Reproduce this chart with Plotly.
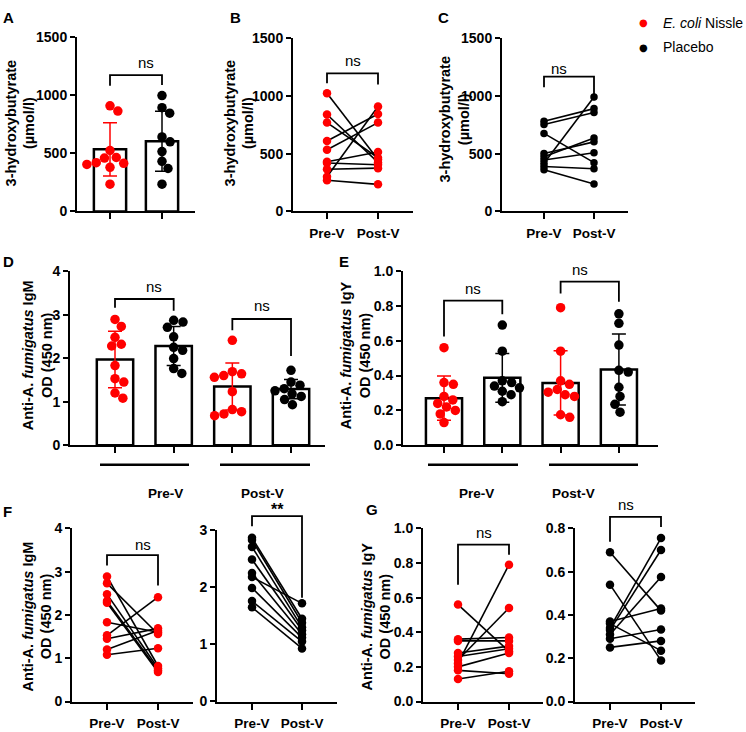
import math
import plotly.graph_objects as go

OFF = 0
FW, FH = 746, 732
RED = "#ff0000"
BLACK = "#000000"
FONT = "Liberation Sans, Arial, sans-serif"

# ---------------- data ----------------
pair_ticks = ["Pre-V", "Post-V"]

# Panel A: 3-hydroxybutyrate (µmol/l), bar = mean, error = SD
hb_ecn = [910, 865, 525, 465, 460, 420, 415, 405, 380, 235]
hb_plc = [998, 894, 847, 642, 600, 516, 432, 370, 235]
hb_mean = [535, 605]
hb_sd = [230, 258]

# Panel B / C: paired 3-hydroxybutyrate
hb_ecn_pre = [1025, 840, 770, 610, 535, 430, 420, 365, 300, 270]
hb_ecn_post = [450, 425, 465, 845, 770, 515, 405, 375, 910, 235]
hb_plc_pre = [782, 754, 676, 502, 474, 446, 418, 390, 362]
hb_plc_post = [891, 857, 423, 603, 637, 508, 992, 370, 237]

# Panels D / F: anti-A. fumigatus IgM OD (450 nm)
igm_ecn_pre = [2.89, 2.73, 2.48, 2.32, 2.28, 1.83, 1.53, 1.45, 1.20, 1.08]
igm_ecn_post = [0.82, 1.56, 0.77, 0.72, 0.68, 1.60, 2.41, 1.69, 1.64, 1.23]
igm_plc_pre = [2.87, 2.83, 2.71, 2.49, 2.25, 2.18, 1.99, 1.76, 1.65]
igm_plc_post = [1.45, 1.38, 1.30, 1.25, 1.18, 1.72, 1.12, 1.05, 0.93]
igm_mean = [1.97, 2.28, 1.35, 1.29]
igm_sd = [0.65, 0.45, 0.54, 0.22]

# Panels E / G: anti-A. fumigatus IgY OD (450 nm)
igy_ecn_pre = [0.56, 0.36, 0.35, 0.28, 0.26, 0.24, 0.22, 0.20, 0.18, 0.13]
igy_ecn_post = [0.29, 0.37, 0.35, 0.32, 0.305, 0.54, 0.79, 0.28, 0.16, 0.175]
igy_plc_pre = [0.69, 0.54, 0.37, 0.34, 0.33, 0.31, 0.36, 0.29, 0.25]
igy_plc_post = [0.42, 0.19, 0.43, 0.755, 0.70, 0.575, 0.235, 0.333, 0.28]
igy_mean = [0.27, 0.387, 0.358, 0.435]
igy_sd = [0.127, 0.14, 0.185, 0.204]

# ---------------- figure ----------------
fig = go.Figure()
P = {}
TICKFONT = dict(family=FONT, size=14, color="black", weight="bold")


def X(px):
    return (px - OFF) / FW


def Y(py):
    return 1 - (py - OFF) / FH


def setup(key, idx, xl, xr, yt, yb, first_px, step_px, yr, tickvals_y, fmt,
          xticks=None, xlabels=None):
    xrng = [(xl - first_px) / step_px, (xr - first_px) / step_px]
    sfx = "" if idx == 1 else str(idx)
    P[key] = dict(sfx=sfx, xl=xl, xr=xr, yt=yt, yb=yb, xr_=xrng, yr=yr, step=step_px)
    fig.update_layout(**{
        "xaxis" + sfx: dict(domain=[X(xl), X(xr)], range=xrng, anchor="y" + sfx,
                            showline=True, linewidth=2, linecolor="black",
                            ticks="outside", ticklen=6, tickwidth=2, tickcolor="black",
                            showgrid=False, zeroline=False,
                            tickmode="array", tickvals=xticks,
                            ticktext=xlabels if xlabels else None,
                            showticklabels=xlabels is not None,
                            tickfont=dict(family=FONT, size=13.5, color="black", weight="bold"),
                            ticklabelstandoff=2),
        "yaxis" + sfx: dict(domain=[Y(yb), Y(yt)], range=yr, anchor="x" + sfx,
                            showline=True, linewidth=2, linecolor="black",
                            ticks="outside", ticklen=5, tickwidth=2, tickcolor="black",
                            showgrid=False, zeroline=False,
                            tickmode="array", tickvals=tickvals_y, tickformat=fmt,
                            tickfont=TICKFONT),
    })


def to_paper(key, x, y):
    p = P[key]
    xp = p["xl"] + (x - p["xr_"][0]) * p["step"]
    y0, y1 = p["yr"]
    yp = p["yb"] - (y - y0) / (y1 - y0) * (p["yb"] - p["yt"])
    return X(xp), Y(yp)


def swarm(vals, key, d=9.5):
    p = P[key]
    ppu_y = (p["yb"] - p["yt"]) / (p["yr"][1] - p["yr"][0])
    placed = []
    offs = [0.0] * len(vals)
    for i in sorted(range(len(vals)), key=lambda k: -vals[k]):
        y = vals[i] * ppu_y
        forb = []
        for (xj, yj) in placed:
            dy = abs(y - yj)
            if dy < d:
                h = math.sqrt(d * d - dy * dy)
                forb.append((xj - h, xj + h))
        cands = [0.0] + [e for iv in forb for e in iv]
        cands.sort(key=lambda c: (abs(c), -c))
        x = 0.0
        for c in cands:
            if all(not (a + 1e-6 < c < b - 1e-6) for a, b in forb):
                x = c
                break
        placed.append((x, y))
        offs[i] = x / p["step"]
    return offs


def bar_panel(key, means, sds, groups, colors):
    sfx = P[key]["sfx"]
    for j, (m, s, c) in enumerate(zip(means, sds, colors)):
        fig.add_trace(go.Bar(x=[j], y=[m], width=0.62, xaxis="x" + sfx, yaxis="y" + sfx,
                             marker=dict(color="white", line=dict(color="black", width=2.5)),
                             error_y=dict(type="data", array=[s], color=c, thickness=1.5, width=7),
                             showlegend=False, hoverinfo="skip"))
    for j, (vals, c) in enumerate(zip(groups, colors)):
        offs = swarm(vals, key)
        fig.add_trace(go.Scatter(x=[j + o for o in offs], y=vals, mode="markers",
                                 xaxis="x" + sfx, yaxis="y" + sfx,
                                 marker=dict(color=c, size=9.5, line=dict(width=0)),
                                 showlegend=False, cliponaxis=False))


def pair_panel(key, pre, post, color, msize=8.5):
    sfx = P[key]["sfx"]
    for a, b in zip(pre, post):
        fig.add_trace(go.Scatter(x=[0, 1], y=[a, b], mode="lines", xaxis="x" + sfx, yaxis="y" + sfx,
                                 line=dict(color="black", width=1.6), showlegend=False,
                                 hoverinfo="skip", cliponaxis=False))
    fig.add_trace(go.Scatter(x=[0] * len(pre) + [1] * len(post), y=list(pre) + list(post),
                             mode="markers", xaxis="x" + sfx, yaxis="y" + sfx,
                             marker=dict(color=color, size=msize), showlegend=False,
                             cliponaxis=False))


shapes = []
annots = []


def bracket(key, x0, x1, ytop, yl, yr, text, ytext, size=15):
    ax, ayl = to_paper(key, x0, yl)
    bx, ayr = to_paper(key, x1, yr)
    _, at = to_paper(key, x0, ytop)
    shapes.append(dict(type="path", xref="paper", yref="paper",
                       path=f"M {ax},{ayl} L {ax},{at} L {bx},{at} L {bx},{ayr}",
                       line=dict(color="black", width=1.8)))
    tx, ty = to_paper(key, (x0 + x1) / 2, ytext)
    annots.append(dict(x=tx, y=ty, xref="paper", yref="paper", text=text, showarrow=False,
                       font=dict(family=FONT, size=size, color="black"), yanchor="middle"))


# axes setup (pixel geometry in window pixels)
setup("A", 1, 77, 195, 30, 208, 110, 52, [0, 1500], [0, 500, 1000, 1500], "d", xticks=[0, 1])
setup("B", 2, 293, 413, 31, 208, 327, 51, [0, 1500], [0, 500, 1000, 1500], "d", [0, 1], pair_ticks)
setup("C", 3, 502, 628, 31, 208, 544, 50, [0, 1500], [0, 500, 1000, 1500], "d", [0, 1], pair_ticks)
setup("D", 4, 70, 325, 269, 447, 115, 58.67, [0, 4], [0, 1, 2, 3, 4], "d", xticks=[0, 1, 2, 3])
setup("E", 5, 403, 658, 269, 447, 444, 58.3, [0, 1.0], [0, 0.2, 0.4, 0.6, 0.8, 1.0], ".1f", xticks=[0, 1, 2, 3])
setup("F1", 6, 72, 193, 532, 709, 107, 51, [0, 4], [0, 1, 2, 3, 4], "d", [0, 1], pair_ticks)
setup("F2", 7, 217, 337, 534, 709, 252, 50, [0, 3], [0, 1, 2, 3], "d", [0, 1], pair_ticks)
setup("G1", 8, 423, 543, 532, 709, 458, 51, [0, 1.0], [0, 0.2, 0.4, 0.6, 0.8, 1.0], ".1f", [0, 1], pair_ticks)
setup("G2", 9, 575, 695, 532, 709, 610, 51, [0, 0.8], [0, 0.2, 0.4, 0.6, 0.8], ".1f", [0, 1], pair_ticks)

bar_panel("A", hb_mean, hb_sd, [hb_ecn, hb_plc], [RED, BLACK])
pair_panel("B", hb_ecn_pre, hb_ecn_post, RED, 8.5)
pair_panel("C", hb_plc_pre, hb_plc_post, BLACK, 7.5)
bar_panel("D", igm_mean, igm_sd, [igm_ecn_pre, igm_plc_pre, igm_ecn_post, igm_plc_post],
          [RED, BLACK, RED, BLACK])
bar_panel("E", igy_mean, igy_sd, [igy_ecn_pre, igy_plc_pre, igy_ecn_post, igy_plc_post],
          [RED, BLACK, RED, BLACK])
pair_panel("F1", igm_ecn_pre, igm_ecn_post, RED)
pair_panel("F2", igm_plc_pre, igm_plc_post, BLACK)
pair_panel("G1", igy_ecn_pre, igy_ecn_post, RED)
pair_panel("G2", igy_plc_pre, igy_plc_post, BLACK)

# significance brackets
bracket("A", 0, 1, 1175, 1082, 1090, "ns", 1287)
bracket("B", 0, 1, 1197, 1110, 1099, "ns", 1309)
bracket("C", 0, 1, 1169, 1076, 964, "ns", 1239)
bracket("D", 0, 1, 3.36, 3.16, 3.09, "ns", 3.65)
bracket("D", 2, 3, 2.90, 2.64, 2.05, "ns", 3.20)
bracket("E", 0, 1, 0.831, 0.625, 0.753, "ns", 0.90)
bracket("E", 2, 3, 0.94, 0.871, 0.824, "ns", 1.01)
bracket("F1", 0, 1, 3.38, 3.14, 2.68, "ns", 3.62)
bracket("F2", 0, 1, 3.25, 3.07, 1.82, "<b>**</b>", 3.36, 16)
bracket("G1", 0, 1, 0.906, 0.674, 0.847, "ns", 0.975)
bracket("G2", 0, 1, 0.853, 0.738, 0.806, "ns", 0.908)

# group underlines and labels for D / E
for (x0, x1) in [(100, 189), (220, 310), (428, 518), (549, 638)]:
    shapes.append(dict(type="line", xref="paper", yref="paper", x0=X(x0), x1=X(x1),
                       y0=Y(467), y1=Y(467), line=dict(color="black", width=2.5)))
for (x, t) in [(146, "Pre-V"), (262, "Post-V"), (476, "Pre-V"), (597, "Post-V")]:
    annots.append(dict(x=X(x), y=Y(496), xref="paper", yref="paper", text=t, showarrow=False,
                       yanchor="middle",
                       font=dict(family=FONT, size=13.5, color="black", weight="bold")))

# y-axis titles
hb_title = "3-hydroxybutyrate<br>(µmol/l)"
igm_title = "Anti-A. <i>fumigatus</i> IgM<br>OD (450 nm)"
igy_title = "Anti-A. <i>fumigatus</i> IgY<br>OD (450 nm)"
for (x, y, t) in [(20, 118, hb_title), (239, 118, hb_title), (455, 114, hb_title),
                  (37, 355, igm_title), (355, 355, igy_title),
                  (37, 622, igm_title), (376, 622, igy_title)]:
    annots.append(dict(x=X(x), y=Y(y), xref="paper", yref="paper", text=t, showarrow=False,
                       textangle=-90, xanchor="center", yanchor="middle",
                       font=dict(family=FONT, size=14.5, color="black", weight="bold")))

# panel letters
for (x, y, t) in [(1, 10, "A"), (228, 10, "B"), (436, 10, "C"), (1, 259, "D"), (337, 259, "E"),
                  (1, 515, "F"), (364, 513, "G")]:
    annots.append(dict(x=X(x), y=Y(y), xref="paper", yref="paper", text=t, showarrow=False,
                       xanchor="left", yanchor="middle",
                       font=dict(family=FONT, size=15, color="black", weight="bold")))

# legend
for (y, c, t) in [(15, RED, "<i>E. coli</i> Nissle"), (40, BLACK, "Placebo")]:
    annots.append(dict(x=X(643), y=Y(y), xref="paper", yref="paper", text="●", showarrow=False,
                       xanchor="center", yanchor="middle", font=dict(family="DejaVu Sans", size=10, color=c)))
    annots.append(dict(x=X(661), y=Y(y), xref="paper", yref="paper", text=t, showarrow=False,
                       xanchor="left", yanchor="middle", font=dict(family=FONT, size=14, color="black")))

fig.update_layout(width=FW, height=FH, autosize=False, margin=dict(l=0, r=0, t=0, b=0),
                  paper_bgcolor="white", plot_bgcolor="white", barmode="overlay",
                  shapes=shapes, annotations=annots, showlegend=False,
                  font=dict(family=FONT, color="black"))

# remove the browser's default 8px body margin so the figure starts at the window corner
fig.write_html("out.html", config={"displayModeBar": False},
               post_script="document.body.style.margin='0px';")
